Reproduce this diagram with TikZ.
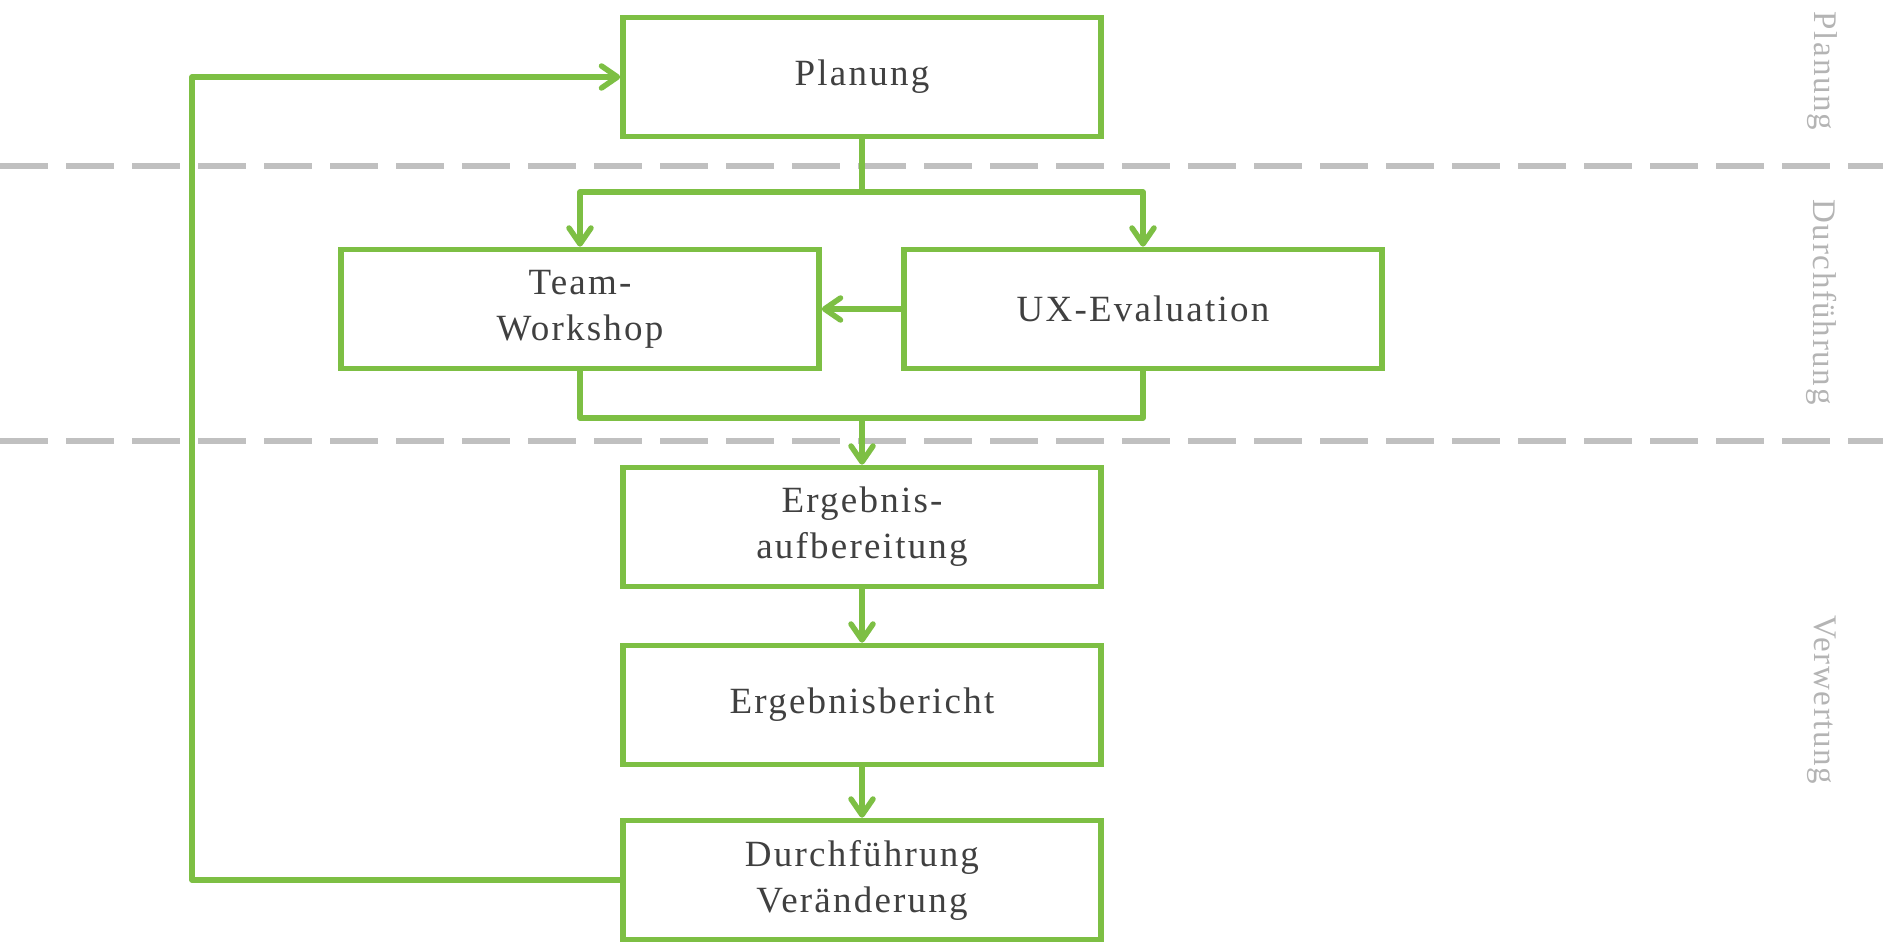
\documentclass[tikz,border=0pt]{standalone}
\usepackage{fontspec}
\setmainfont{Liberation Serif}
\usetikzlibrary{arrows.meta}
\definecolor{lgreen}{HTML}{7DBF44}
\definecolor{dgray}{HTML}{C0C0C0}
\definecolor{txtgray}{HTML}{404040}
\definecolor{lblgray}{HTML}{B4B4B4}
\newfontfamily\boxfont[LetterSpace=6]{Liberation Serif}
\newfontfamily\lblfont[LetterSpace=5]{Liberation Serif}
\tikzset{
  stepbox/.style={draw=lgreen, line width=2.75pt, minimum width=239pt, minimum height=59.5pt,
    inner sep=0pt, align=center, text=txtgray, font=\boxfont\fontsize{18.5}{23}\selectfont},
  conn/.style={draw=lgreen, line width=2.75pt, line join=round},
  arr/.style={conn, -{Straight Barb[length=8pt,width=11pt,round]}},
  sep/.style={draw=dgray, line width=2.6pt, dash pattern=on 24pt off 9pt},
  side/.style={text=lblgray, rotate=-90, font=\lblfont\fontsize{16.5}{19}\selectfont, inner sep=0pt}
}
\begin{document}
\begin{tikzpicture}[x=0.5pt, y=-0.5pt]
\useasboundingbox (0,0) rectangle (1883,951);
% separators
\coordinate (s1a) at (0,166); \coordinate (s1b) at (1883,166);
\coordinate (s2a) at (0,441); \coordinate (s2b) at (1883,441);
\draw[sep] (s1a) -- (s1b);
\draw[sep] (s2a) -- (s2b);
% side labels
\node[side] (lp) at (1822,71) {Planung};
\node[side] (ld) at (1822,302) {Durchführung};
\node[side] (lv) at (1822,700) {Verwertung};
% boxes
\node[stepbox] (P) at (862,77) {Planung};
\node[stepbox] (T) at (580,309) {Team-\\Workshop};
\node[stepbox] (U) at (1143,309) {UX-Evaluation};
\node[stepbox] (E1) at (862,527) {Ergebnis-\\aufbereitung};
\node[stepbox] (E2) at (862,705) {Ergebnisbericht};
\node[stepbox] (E3) at (862,880) {Durchführung\\Veränderung};
% connectors
\coordinate (j1) at (862,192);
\coordinate (j2) at (862,418);
\coordinate (fb) at (192,880);
\draw[conn] (P.south) -- (j1);
\draw[arr] (j1) -| (T.north);
\draw[arr] (j1) -| (U.north);
\draw[arr] (U.west) -- (T.east);
\draw[conn] (T.south) |- (j2) -| (U.south);
\draw[arr] (j2) -- (E1.north);
\draw[arr] (E1) -- (E2);
\draw[arr] (E2) -- (E3);
\draw[arr] (E3.west) -- (fb) |- (P.west);
\end{tikzpicture}
\end{document}
